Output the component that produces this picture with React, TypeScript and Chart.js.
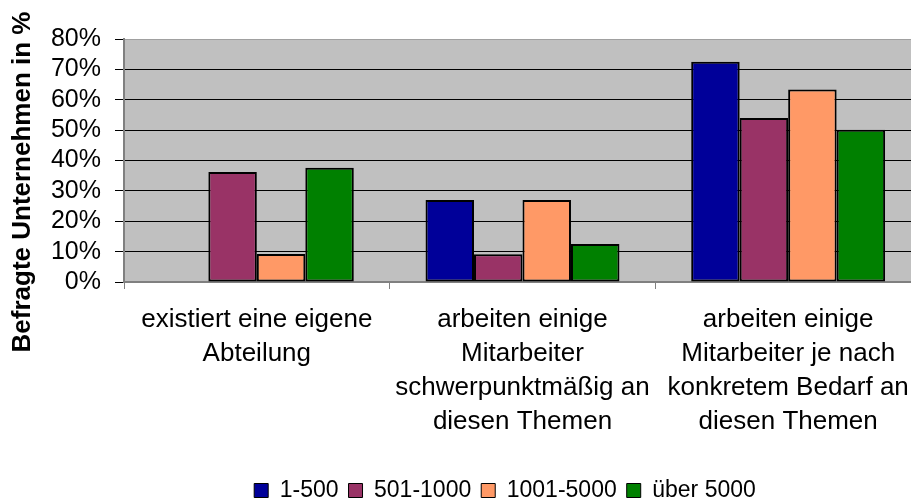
import React, { useEffect, useRef } from "react";
import { Chart, registerables } from "chart.js";

Chart.register(...registerables);

const categories: string[][] = [
  ["existiert eine eigene", "Abteilung"],
  ["arbeiten einige", "Mitarbeiter", "schwerpunktmäßig an", "diesen Themen"],
  ["arbeiten einige", "Mitarbeiter je nach", "konkretem Bedarf an", "diesen Themen"],
];
const seriesNames = ["1-500", "501-1000", "1001-5000", "über 5000"];
const values1to500 = [0, 27.0, 72.5];
const values501to1000 = [36.2, 9.1, 54.0];
const values1001to5000 = [9.2, 27.0, 63.4];
const valuesOver5000 = [37.6, 12.5, 50.1];
const seriesColors = ["#000099", "#993366", "#FF9966", "#008000"];
const yMin = 0;
const yMax = 80;
const yStep = 10;
const yTitle = "Befragte Unternehmen in %";

const FONT = "'Liberation Sans', Arial, sans-serif";
const CANVAS_W = 923;

const plotBg = {
  id: "plotBg",
  afterLayout(chart: any) {
    const l = chart.legend;
    if (l) {
      const dx = 44;
      const dy = 12;
      l.left += dx;
      l.right += dx;
      l.top += dy;
      l.bottom += dy;
    }
  },
  beforeDraw(chart: any) {
    const { ctx, chartArea } = chart;
    ctx.save();
    ctx.fillStyle = "#C0C0C0";
    ctx.fillRect(chartArea.left, chartArea.top, chartArea.right - chartArea.left, chartArea.bottom - chartArea.top);
    ctx.restore();
  },
  afterDraw(chart: any) {
    const { ctx } = chart;
    ctx.save();
    ctx.translate(23, 182);
    ctx.rotate(-Math.PI / 2);
    ctx.font = `bold 26px ${FONT}`;
    ctx.fillStyle = "#000";
    ctx.textAlign = "center";
    ctx.textBaseline = "middle";
    ctx.fillText(yTitle, 0, 0);
    ctx.restore();
  },
};

export default function App() {
  const ref = useRef<HTMLCanvasElement | null>(null);
  useEffect(() => {
    if (!ref.current) return;
    const allValues = [values1to500, values501to1000, values1001to5000, valuesOver5000];
    const chart = new Chart(ref.current, {
      type: "bar",
      data: {
        labels: categories,
        datasets: seriesNames.map((name, i) => ({
          label: name,
          data: allValues[i],
          backgroundColor: seriesColors[i],
          borderColor: "#000",
          borderWidth: 2,
          borderSkipped: false,
          categoryPercentage: 0.73,
          barPercentage: 1,
        })),
      },
      options: {
        animation: false,
        responsive: false,
        devicePixelRatio: 1,
        layout: { padding: { top: 39, right: 1, left: 0, bottom: 0 } },
        plugins: {
          tooltip: { enabled: false },
          legend: {
            position: "bottom",
            labels: {
              color: "#000",
              font: { family: FONT, size: 23 },
              boxWidth: 14,
              boxHeight: 14,
              padding: 10,
              generateLabels: (c: any) =>
                Chart.defaults.plugins.legend.labels.generateLabels(c).map((l: any) => ({ ...l, lineWidth: 1 })),
            },
          },
        },
        scales: {
          x: {
            afterFit: (s: any) => {
              s.height += 4;
            },
            grid: { display: true, drawOnChartArea: false, offset: true, tickLength: 7, tickColor: "#808080" },
            border: { color: "#808080", width: 2 },
            ticks: {
              color: "#000",
              font: { family: FONT, size: 26, lineHeight: 34 / 26 },
              padding: 14,
              maxRotation: 0,
              autoSkip: false,
            },
          },
          y: {
            min: yMin,
            max: yMax,
            afterFit: (s: any) => {
              s.width = 124;
            },
            grid: {
              color: (c: any) => (c.tick && (c.tick.value === yMin || c.tick.value === yMax) ? "#A0A0A0" : "#000"),
              tickColor: "#000",
              tickLength: 9,
              lineWidth: 1,
            },
            border: { color: "#808080", width: 2 },
            ticks: {
              color: "#000",
              font: { family: FONT, size: 25 },
              padding: 14,
              stepSize: yStep,
              autoSkip: false,
              callback: (v: any) => `${v}%`,
            },
          },
        },
      },
      plugins: [plotBg],
    });
    return () => chart.destroy();
  }, []);
  return (
    <div style={{ position: "fixed", left: 0, top: 0, width: 911, height: 500, overflow: "hidden", background: "#fff" }}>
      <canvas ref={ref} width={CANVAS_W} height={500} style={{ width: CANVAS_W, height: 500, display: "block" }} />
    </div>
  );
}
